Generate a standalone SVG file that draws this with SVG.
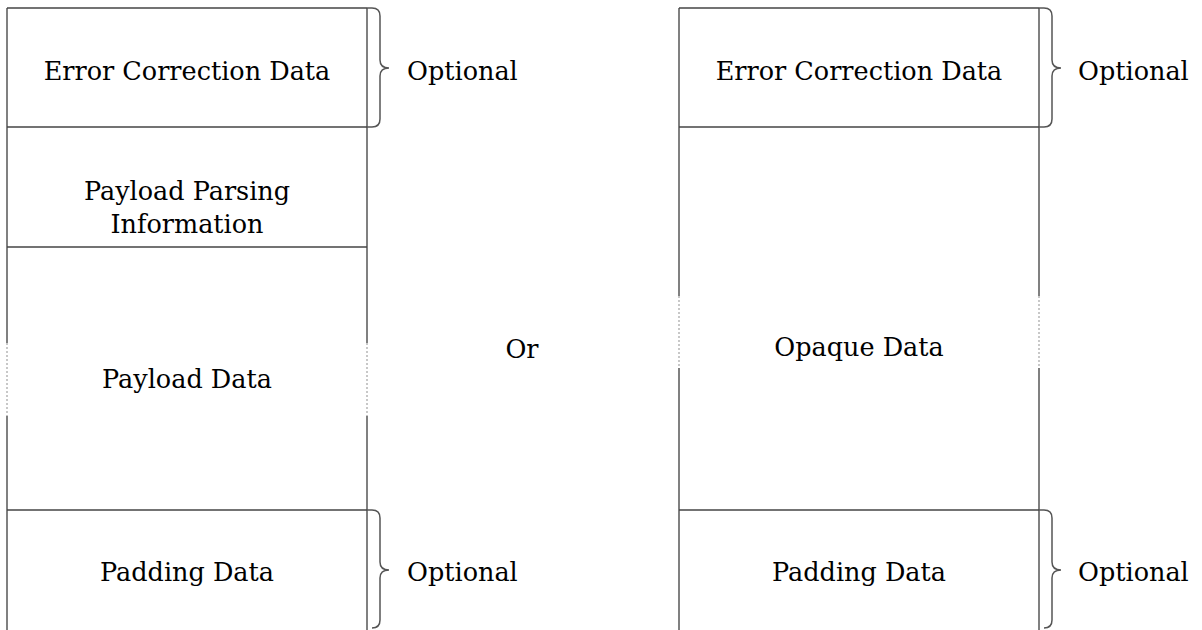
<svg xmlns="http://www.w3.org/2000/svg" width="1202" height="630" viewBox="0 0 1202 630">
<style>
.h{stroke:#444;stroke-width:1.5;fill:none}
.v{stroke:#808080;stroke-width:2;fill:none}
.d{stroke:#c8c8c8;stroke-width:2;stroke-dasharray:2 2;fill:none}
.b{stroke:#555;stroke-width:1.5;fill:none}
text{font-family:"DejaVu Serif","Liberation Serif",serif;font-size:25.5px;fill:#000}
.c{text-anchor:middle}
</style>
<rect width="1202" height="630" fill="#fff"/>
<g id="left-stack">
<line class="v" x1="7" y1="8" x2="7" y2="343"/><line class="d" x1="7" y1="343" x2="7" y2="416"/><line class="v" x1="7" y1="416" x2="7" y2="630"/>
<line class="v" x1="367" y1="8" x2="367" y2="343"/><line class="d" x1="367" y1="343" x2="367" y2="416"/><line class="v" x1="367" y1="416" x2="367" y2="630"/>
<line class="h" x1="7" y1="8" x2="367" y2="8"/>
<line class="h" x1="7" y1="127" x2="367" y2="127"/>
<line class="h" x1="7" y1="247" x2="367" y2="247"/>
<line class="h" x1="7" y1="510" x2="367" y2="510"/>
</g>
<g id="l-ecd"><text class="c" x="187" y="80">Error Correction Data</text></g>
<g id="l-ppi"><text class="c" x="187" y="200">Payload Parsing</text><text class="c" x="187" y="233">Information</text></g>
<g id="l-pd"><text class="c" x="187" y="388">Payload Data</text></g>
<g id="l-pad"><text class="c" x="187" y="581">Padding Data</text></g>
<g id="or"><text class="c" x="522" y="358">Or</text></g>
<g id="right-stack">
<line class="v" x1="679" y1="8" x2="679" y2="296"/><line class="d" x1="679" y1="296" x2="679" y2="368"/><line class="v" x1="679" y1="368" x2="679" y2="630"/>
<line class="v" x1="1039" y1="8" x2="1039" y2="296"/><line class="d" x1="1039" y1="296" x2="1039" y2="368"/><line class="v" x1="1039" y1="368" x2="1039" y2="630"/>
<line class="h" x1="679" y1="8" x2="1039" y2="8"/>
<line class="h" x1="679" y1="127" x2="1039" y2="127"/>
<line class="h" x1="679" y1="510" x2="1039" y2="510"/>
</g>
<g id="r-ecd"><text class="c" x="859" y="80">Error Correction Data</text></g>
<g id="r-od"><text class="c" x="859" y="356">Opaque Data</text></g>
<g id="r-pad"><text class="c" x="859" y="581">Padding Data</text></g>
<g id="braces">
<path class="b" d="M367,8 H372 Q380,8 380,16 V60 Q380,68 389,68 Q380,68 380,76 V119 Q380,127 372,127 H367"/>
<path class="b" d="M367,510 H372 Q380,510 380,518 V562 Q380,570 389,570 Q380,570 380,578 V620 Q380,628 372,628"/>
<path class="b" d="M1039,8 H1044 Q1052,8 1052,16 V60 Q1052,68 1061,68 Q1052,68 1052,76 V119 Q1052,127 1044,127 H1039"/>
<path class="b" d="M1039,510 H1044 Q1052,510 1052,518 V562 Q1052,570 1061,570 Q1052,570 1052,578 V620 Q1052,628 1044,628"/>
</g>
<g id="optional-labels">
<text x="407" y="80">Optional</text>
<text x="407" y="581">Optional</text>
<text x="1078" y="80">Optional</text>
<text x="1078" y="581">Optional</text>
</g>
</svg>
